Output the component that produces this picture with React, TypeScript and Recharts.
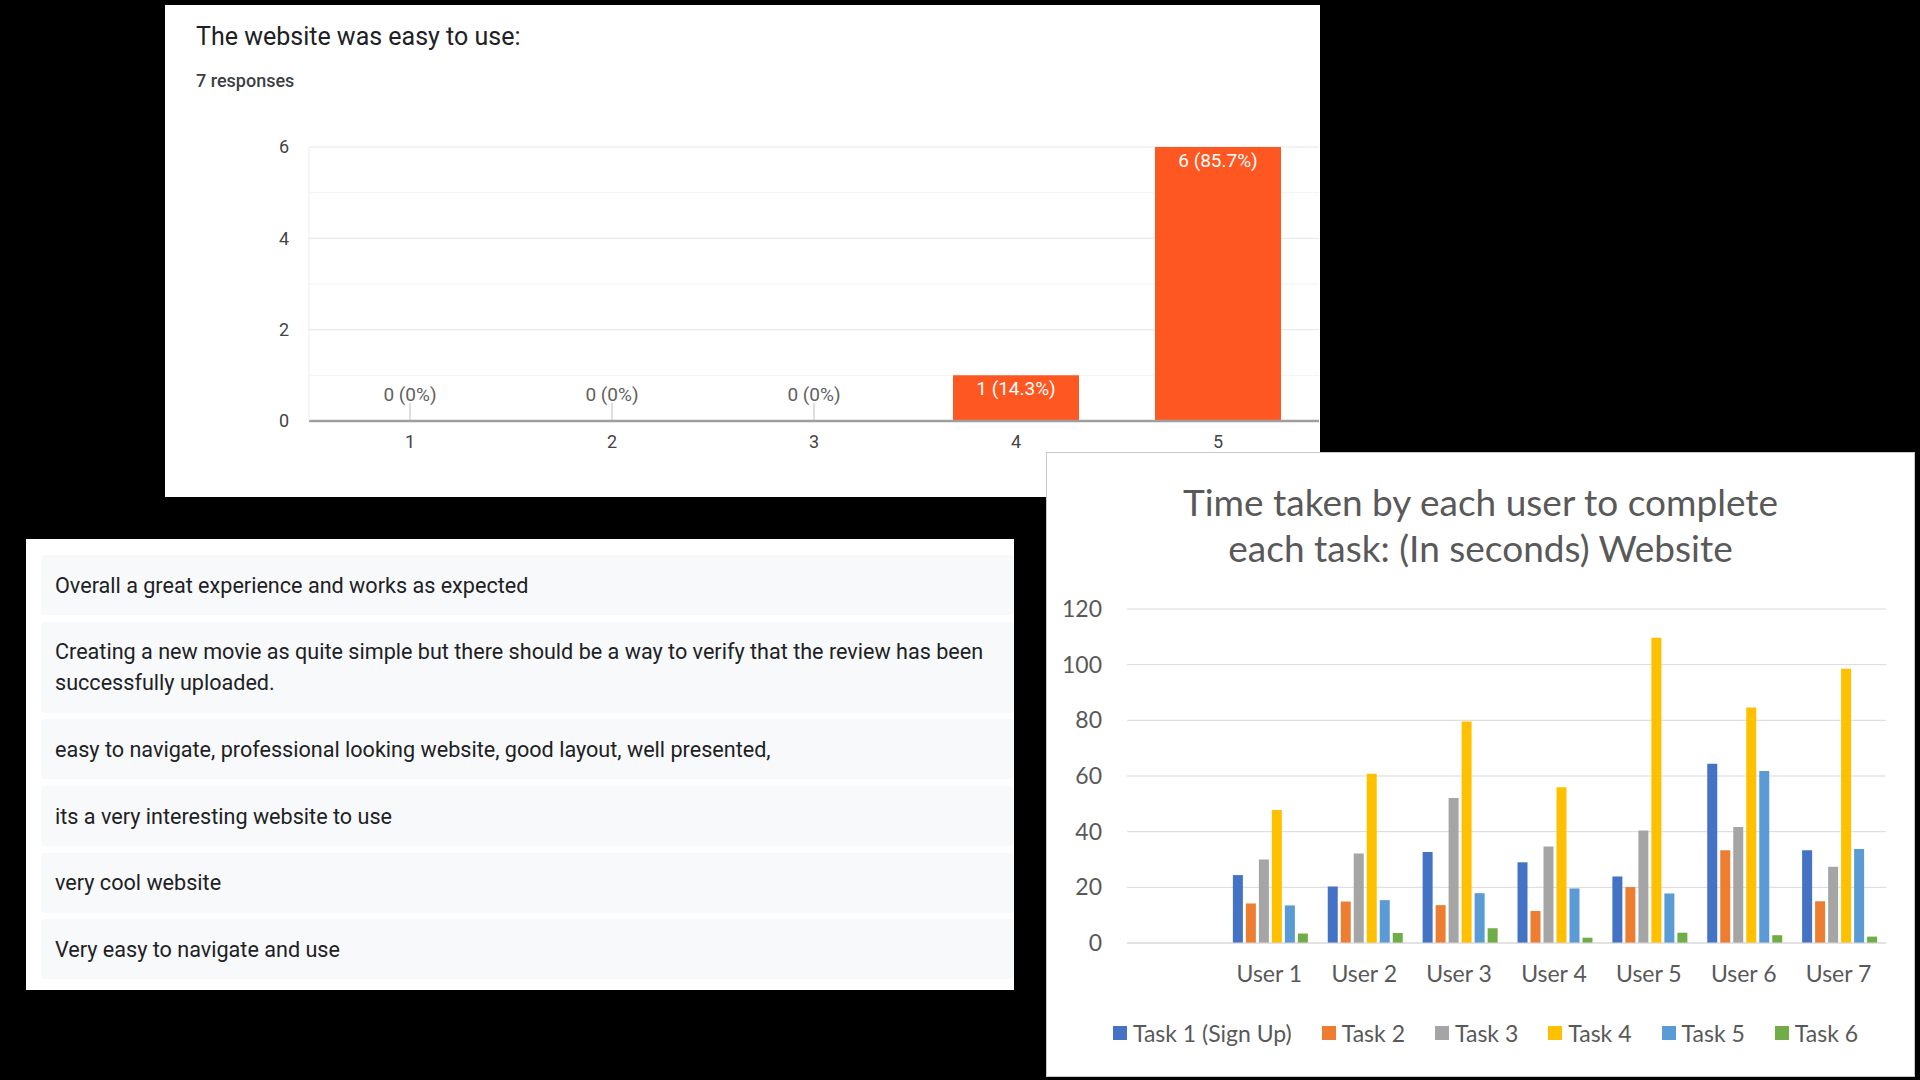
import React from "react";
import { Bar, BarChart, CartesianGrid, LabelList, ReferenceDot, XAxis, YAxis } from "recharts";

// survey: "The website was easy to use"
const ratingLabels = ["1", "2", "3", "4", "5"];
const ratingCounts = [0, 0, 0, 1, 6];
const ratingShares = ["0%", "0%", "0%", "14.3%", "85.7%"];
const ratingTicks = [0, 2, 4, 6];
const ratingMinor = [1, 3, 5];

const comments = [
  "Overall a great experience and works as expected",
  "Creating a new movie as quite simple but there should be a way to verify that the review has been successfully uploaded.",
  "easy to navigate, professional looking website, good layout, well presented,",
  "its a very interesting website to use",
  "very cool website",
  "Very easy to navigate and use",
];

// time per task (seconds); first slot is an empty category like in the sheet
const users = ["", "User 1", "User 2", "User 3", "User 4", "User 5", "User 6", "User 7"];
const task1 = [null, 24.4, 20.3, 32.7, 29.0, 23.9, 64.4, 33.3];
const task2 = [null, 14.2, 14.9, 13.6, 11.5, 20.1, 33.3, 15.0];
const task3 = [null, 30.0, 32.2, 52.1, 34.7, 40.4, 41.7, 27.4];
const task4 = [null, 47.8, 60.8, 79.6, 56.0, 109.7, 84.6, 98.5];
const task5 = [null, 13.5, 15.4, 17.9, 19.6, 17.8, 61.8, 33.8];
const task6 = [null, 3.4, 3.6, 5.3, 1.9, 3.7, 2.8, 2.3];
const taskNames = ["Task 1 (Sign Up)", "Task 2", "Task 3", "Task 4", "Task 5", "Task 6"];
const taskColors = ["#4472C4", "#ED7D31", "#A5A5A5", "#FFC000", "#5B9BD5", "#70AD47"];
const timeTicks = [0, 20, 40, 60, 80, 100, 120];

const ratingData = ratingLabels.map((r, i) => ({
  rating: r,
  count: ratingCounts[i],
  label: `${ratingCounts[i]} (${ratingShares[i]})`,
}));

const taskSeries = [task1, task2, task3, task4, task5, task6];
const timeData = users.map((u, i) => {
  const row: Record<string, any> = { user: u };
  taskSeries.forEach((s, k) => (row["t" + k] = s[i]));
  return row;
});

function InsideTopLabel(props: any) {
  const { x, y, width, value } = props;
  return (
    <text x={x + width / 2} y={y + 13} textAnchor="middle" dominantBaseline="central" fill="#fff" fontSize={19}>
      {value}
    </text>
  );
}

function zeroMark(text: string) {
  return (p: any) => (
    <g>
      <line x1={p.cx} x2={p.cx} y1={p.cy - 1} y2={p.cy - 18} stroke="#bdbdbd" />
      <text x={p.cx} y={p.cy - 27} textAnchor="middle" dominantBaseline="central" fill="#616161" fontSize={19}>
        {text}
      </text>
    </g>
  );
}

function RatingPanel() {
  return (
    <div style={{ position: "absolute", left: 165, top: 5, width: 1155, height: 492, background: "#fff", fontFamily: "Roboto" }}>
      <div style={{ position: "absolute", left: 31, top: 17, fontSize: 25, color: "#202124" }}>The website was easy to use:</div>
      <div style={{ position: "absolute", left: 31, top: 65, fontSize: 18, fontWeight: 500, color: "#3c4043" }}>7 responses</div>
      <BarChart width={1155} height={492} data={ratingData} margin={{ top: 142, right: 1, bottom: 46, left: 0 }} barCategoryGap={38}>
        <CartesianGrid vertical={false} horizontalValues={ratingMinor} stroke="#f3f3f3" />
        <CartesianGrid vertical={false} stroke="#e6e6e6" />
        <XAxis dataKey="rating" height={30} tickSize={0} tickMargin={14} axisLine={{ stroke: "#9e9e9e", strokeWidth: 2.5 }} tick={{ fill: "#444", fontSize: 18 }} />
        <YAxis width={144} domain={[0, 6]} ticks={ratingTicks} tickSize={0} tickMargin={20} axisLine={{ stroke: "#ececec" }} tick={{ fill: "#444", fontSize: 18 }} />
        <Bar dataKey="count" fill="#ff5722" isAnimationActive={false}>
          <LabelList dataKey="label" content={<InsideTopLabel />} />
        </Bar>
        {ratingData
          .filter((d) => d.count === 0)
          .map((d) => (
            <ReferenceDot key={d.rating} x={d.rating} y={0} r={0} shape={zeroMark(d.label)} />
          ))}
      </BarChart>
    </div>
  );
}

function CommentsPanel() {
  return (
    <div style={{ position: "absolute", left: 26, top: 539, width: 988, height: 451, background: "#fff", overflow: "hidden", fontFamily: "Roboto" }}>
      <div style={{ position: "absolute", left: 15, top: 16, right: 0 }}>
        {comments.map((c) => (
          <div key={c} style={{ background: "#f8f9fa", borderRadius: 4, padding: "14.5px 8px 14.5px 14px", marginBottom: 6.7, fontSize: 21.6, lineHeight: "31px", color: "#202124" }}>
            {c}
          </div>
        ))}
      </div>
    </div>
  );
}

function TimePanel() {
  const font = "Lato";
  return (
    <div style={{ position: "absolute", left: 1046, top: 452, width: 869, height: 625, background: "#fff", border: "1px solid #c8c8c8", boxSizing: "border-box", fontFamily: font }}>
      <div style={{ position: "absolute", left: 0, right: 0, top: 26, textAlign: "center", fontSize: 37, lineHeight: "46px", color: "#595959" }}>
        Time taken by each user to complete
        <br />
        each task: (In seconds) Website
      </div>
      <BarChart width={869} height={625} data={timeData} margin={{ top: 156, right: 30, bottom: 95, left: -1 }} barCategoryGap={11} barGap={3}>
        <CartesianGrid vertical={false} stroke="#d9d9d9" />
        <XAxis dataKey="user" height={40} tickSize={0} tickMargin={23} axisLine={{ stroke: "#d9d9d9" }} tick={{ fill: "#595959", fontSize: 23, fontFamily: font }} />
        <YAxis width={81} domain={[0, 120]} ticks={timeTicks} tickSize={0} tickMargin={25} axisLine={false} tick={{ fill: "#595959", fontSize: 23, fontFamily: font }} />
        {taskNames.map((n, k) => (
          <Bar key={n} dataKey={"t" + k} name={n} fill={taskColors[k]} isAnimationActive={false} />
        ))}
      </BarChart>
      <div style={{ position: "absolute", left: 10, right: 0, top: 566, display: "flex", justifyContent: "center", fontSize: 23, lineHeight: "28px", color: "#595959" }}>
        {taskNames.map((n, k) => (
          <div key={n} style={{ display: "flex", alignItems: "center", marginRight: k < taskNames.length - 1 ? 30 : 0 }}>
            <span style={{ width: 14, height: 14, background: taskColors[k], marginRight: 6 }} />
            {n}
          </div>
        ))}
      </div>
    </div>
  );
}

export default function App() {
  return (
    <div style={{ position: "absolute", left: 0, top: 0, width: 1920, height: 1080, background: "#000", overflow: "hidden" }}>
      <RatingPanel />
      <CommentsPanel />
      <TimePanel />
    </div>
  );
}
